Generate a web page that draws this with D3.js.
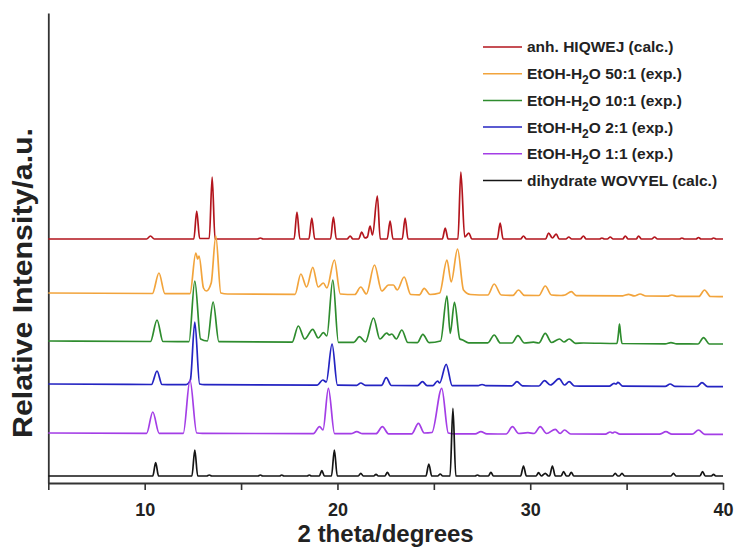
<!DOCTYPE html>
<html>
<head>
<meta charset="utf-8">
<script src="https://cdn.jsdelivr.net/npm/d3@7"></script>
<style>
  body { margin: 0; background: #fff; }
  text { font-family: Arial, "Liberation Sans", sans-serif; font-weight: bold; fill: #222; }
</style>
</head>
<body>
<svg id="chart" width="735" height="550"></svg>
<script>
// series names, top to bottom in the legend
var names = ['anh. HIQWEJ (calc.)', 'EtOH-H2O 50:1 (exp.)', 'EtOH-H2O 10:1 (exp.)',
  'EtOH-H2O 2:1 (exp.)', 'EtOH-H2O 1:1 (exp.)', 'dihydrate WOVYEL (calc.)'];
var colors = ['#b3151d', '#f2a43c', '#2e8c2e', '#2424c2', '#a43ee6', '#151515'];
// vertical stacking offset of each pattern (a.u.)
var offsets = [244, 190, 142, 99, 50, 7];
var xTicks = [5, 10, 15, 20, 25, 30, 35, 40];
var xLabels = [10, 20, 30, 40];

// [2theta, intensity above own offset]
var anh = [[5,0],[10.1,0],[10.3,3],[10.5,0],
  [12.55,0],[12.7,28],[12.85,0.5],[13.35,0.5],[13.5,62],[13.65,0],
  [15.85,0],[16.0,1],[16.15,0],[17.75,0],[17.9,27],[18.05,0],
  [18.52,0],[18.67,21],[18.82,0],[19.64,0],[19.79,22],[19.94,0],
  [20.5,0],[20.66,3],[20.8,0],[21.1,0],[21.26,7],[21.42,1],
  [21.55,2],[21.69,13],[21.82,4],[22.07,43],[22.22,0],
  [22.58,0],[22.73,18],[22.88,0],[23.36,0],[23.51,21],[23.66,0],
  [25.44,0],[25.59,11],[25.74,0],[26.25,0],[26.4,67],[26.6,2],[26.82,6],[26.97,0],
  [28.29,0],[28.44,16],[28.59,0],[29.5,0],[29.65,3],[29.8,0],
  [30.8,0],[30.95,6],[31.15,1],[31.35,5],[31.5,0],[31.85,0],[32.0,2],[32.15,0],
  [32.6,0],[32.76,3],[32.9,0],[33.6,0],[33.72,1],[33.85,0],
  [34.0,0],[34.15,2],[34.3,0],[34.8,0],[34.93,3],[35.08,0],
  [35.5,0],[35.62,3],[35.77,0],[36.3,0],[36.45,2],[36.6,0],
  [37.75,0],[37.87,1],[38.0,0],[38.6,0],[38.73,1.5],[38.86,0],
  [39.4,0],[39.51,1],[39.65,0],[40,0]];

var r50 = [[5,0],[10.4,-0.5],[10.74,20],[11.05,-0.6],
  [12.35,-0.7],[12.65,40],[12.75,34],[12.82,37],[13.05,5],[13.2,2],[13.45,10],[13.69,57],[13.95,0],[14.3,-1],
  [17.8,-1.3],[18.1,19],[18.4,6],[18.72,25.7],[19.0,6],[19.27,10],[19.45,5],[19.84,33],[20.15,-1],[20.9,-1.5],
  [21.21,6],[21.5,-1],[21.92,28],[22.3,2],[22.65,8],[22.9,8],[23.1,3],[23.46,16],[23.8,-1.5],[24.25,-1.8],
  [24.5,4.7],[24.8,-1.5],[25.3,0],[25.68,33],[25.9,11],[26.23,44],[26.54,3],[26.9,-1.5],[27.8,-2],
  [28.13,9],[28.5,-2],[29.1,-2.4],[29.39,3],[29.7,-2.4],[30.45,-2.5],[30.78,7],[31.1,-2],[31.6,-2.5],[31.8,-2],
  [32.13,1.3],[32.4,-2.7],[34.8,-2.8],[35.1,-1.3],[35.4,-2.9],[35.7,-1],[36.0,-3],[37.1,-3.2],[37.35,-2],[37.6,-3.3],
  [38.75,-3.4],[39.04,3],[39.35,-3.5],[40,-3.7]];

var r10 = [[5,0],[10.3,-0.5],[10.64,21],[10.95,-0.5],
  [12.3,-0.6],[12.6,60],[12.9,2],[13.25,0],[13.55,39],[13.85,-0.7],
  [17.65,-1.1],[17.97,15],[18.3,2],[18.72,11.7],[19.0,3],[19.27,8.3],[19.45,5],[19.76,61],[20.05,-1.3],
  [20.85,-1.4],[21.14,4.3],[21.45,-1],[21.87,23],[22.2,2],[22.56,8],[22.68,6],[22.82,7],[23.05,2],[23.34,11],[23.65,-1.5],
  [24.15,-1.6],[24.43,6.7],[24.75,-1.6],[25.35,0],[25.68,45],[25.85,7.7],[26.07,38.7],[26.35,2],[26.5,1],[26.8,-1.8],
  [27.8,-1.9],[28.13,6],[28.45,-2],[29.05,-2],[29.36,5.3],[29.7,-2],[30.17,-1.2],[30.45,-2],[30.78,7.7],[31.1,-1.5],
  [31.52,2],[31.75,-1],[32.02,2],[32.35,-2.3],[32.76,-2],[34.5,-2.5],[34.58,8],[34.63,17],[34.68,8],[34.76,-2.5],
  [37.0,-2.8],[37.3,-1.7],[37.6,-2.8],[38.7,-3],[38.99,3.3],[39.3,-3],[40,-3]];

var r2 = [[5,0],[10.35,-0.5],[10.64,13],[10.9,-0.5],[12.15,-0.6],[12.37,4],[12.6,62],[12.85,0],[13.1,-0.7],
  [18.95,-1.2],[19.24,4],[19.42,2],[19.72,40],[20.0,-1.2],[21.0,-1.3],[21.21,1],[21.45,-1.3],[22.28,-1.4],[22.53,6.3],[22.8,-1.5],
  [24.15,-1.6],[24.41,2.3],[24.65,-1.6],[24.95,-1.6],[25.19,3],[25.3,1],[25.64,19.7],[25.95,-1.6],[27.3,-1.7],[27.5,-0.5],[27.7,-1.7],
  [29.05,-1.9],[29.31,2.3],[29.6,-1.9],[30.45,-2],[30.74,3.3],[31.05,-1],[31.5,5.3],[31.78,-1],[32.02,2.3],[32.3,-2],
  [34.1,-2.2],[34.35,0.7],[34.45,0],[34.55,1.7],[34.8,-2.2],[37.0,-2.4],[37.26,0],[37.5,-2.4],[38.65,-2.5],[38.91,1.3],[39.2,-2.6],[40,-2.7]];

var r1 = [[5,0],[10.1,-0.3],[10.42,21],[10.75,-0.3],[12.0,-0.4],[12.35,53],[12.7,0],[13.0,-0.4],
  [18.75,-0.6],[19.07,6.3],[19.25,3],[19.53,44.7],[19.85,-0.6],[20.7,-0.7],[21.0,1.3],[21.3,-0.7],
  [22.0,-0.7],[22.33,6.3],[22.65,-0.8],[23.85,-0.8],[24.2,9.7],[24.5,0],[24.9,0.5],[25.41,44.7],[25.75,0],[26.1,-0.9],
  [27.15,-0.9],[27.44,1.3],[27.75,-0.9],[28.75,-1],[29.08,6.3],[29.4,-0.5],[29.88,0.3],[30.2,-0.5],[30.52,6.3],[30.85,-0.5],
  [31.3,3.7],[31.55,-0.5],[31.78,3],[32.1,-1],[33.9,-1.1],[34.15,1],[34.27,0],[34.38,1],[34.65,-1.1],
  [36.7,-1.2],[37.04,1.3],[37.35,-1.2],[38.4,-1.2],[38.73,3],[39.05,-1.3],[40,-1.3]];

var dihyd = [[5,0],[10.42,0],[10.57,13.3],[10.72,0],[12.45,0],[12.6,26],[12.75,0],[13.22,0],[13.35,1],[13.48,0],
  [15.88,0],[16.0,1],[16.12,0],[17.0,0],[17.11,1],[17.22,0],[18.43,0],[18.54,1],[18.65,0],
  [19.06,0],[19.19,5.3],[19.32,0],[19.69,0],[19.84,26],[19.99,0],[21.08,0],[21.21,2.7],[21.34,0],
  [21.88,0],[22.0,1.7],[22.12,0],[22.46,0],[22.59,3.7],[22.72,0],[24.59,0],[24.74,12],[24.89,0],
  [25.2,0],[25.33,2],[25.46,0],[25.84,0],[25.99,67.7],[26.14,0],[27.14,0],[27.26,1],[27.38,0],
  [27.83,0],[27.96,3.7],[28.09,0],[29.5,0],[29.65,10],[29.8,0],[30.3,0],[30.43,3.3],[30.58,0],[30.78,2.7],[30.95,0],
  [31.0,0],[31.15,10],[31.3,0],[31.6,0],[31.73,4.3],[31.88,0],[32.0,0],[32.13,3.7],[32.26,0],
  [34.28,0],[34.41,2.7],[34.54,0],[34.63,0],[34.76,2.7],[34.89,0],[37.3,0],[37.43,2.7],[37.56,0],
  [38.8,0],[38.94,4.3],[39.08,0],[39.4,0],[39.51,1.7],[39.62,0],[40,0]];

var patterns = [anh, r50, r10, r2, r1, dihyd];

var svg = d3.select('#chart'),
  x = d3.scaleLinear().domain([5, 40]).range([48.3, 723]),
  y = d3.scaleLinear().domain([0, 470]).range([483, 13]);

// axes
var xAxis = d3.axisBottom(x)
  .tickValues(xTicks)
  .tickSize(7)
  .tickSizeOuter(0)
  .tickPadding(13)
  .tickFormat(function(d) { return xLabels.indexOf(d) >= 0 ? d : ''; });

var gx = svg.append('g')
  .attr('transform', 'translate(0,' + y(0) + ')')
  .call(xAxis);
gx.select('.domain').attr('stroke', '#333').attr('stroke-width', 1.8);
gx.selectAll('.tick line').attr('stroke', '#333').attr('stroke-width', 1.6);
gx.selectAll('.tick text')
  .style('font-family', 'Arial, "Liberation Sans", sans-serif')
  .style('font-weight', 'bold')
  .style('font-size', '18px')
  .attr('fill', '#222');

var gy = svg.append('g')
  .attr('transform', 'translate(' + x(5) + ',0)')
  .call(d3.axisLeft(y).tickValues([]).tickSizeOuter(0));
gy.select('.domain').attr('stroke', '#333').attr('stroke-width', 1.8);

// patterns
var line = d3.line()
  .curve(d3.curveMonotoneX)
  .x(function(d) { return x(d[0]); })
  .y(function(d) { return y(d[1]); });

svg.append('g').selectAll('path')
  .data(patterns)
  .join('path')
  .attr('fill', 'none')
  .attr('stroke', function(d, i) { return colors[i]; })
  .attr('stroke-width', 1.7)
  .attr('stroke-linejoin', 'round')
  .attr('d', function(d, i) {
    var off = offsets[i];
    return line(d.map(function(p) { return [p[0], p[1] + off]; }));
  });

// legend
var leg = svg.append('g').attr('transform', 'translate(483,47)');
var rows = leg.selectAll('g')
  .data(names)
  .join('g')
  .attr('transform', function(d, i) { return 'translate(0,' + (i * 26.7) + ')'; });
rows.append('line')
  .attr('x1', 0).attr('x2', 39)
  .attr('stroke', function(d, i) { return colors[i]; })
  .attr('stroke-width', 1.5);
rows.append('text')
  .attr('x', 44)
  .attr('dy', '0.35em')
  .style('font-size', '15.5px')
  .each(function(d) {
    var t = d3.select(this);
    var k = d.indexOf('H2O');
    if (k < 0) { t.text(d); return; }
    t.append('tspan').text(d.slice(0, k + 1));
    t.append('tspan').attr('dy', 5).style('font-size', '12px').text('2');
    t.append('tspan').attr('dy', -5).text(d.slice(k + 2));
  });

// axis titles
svg.append('text')
  .attr('x', (x(5) + x(40)) / 2)
  .attr('y', 542)
  .attr('text-anchor', 'middle')
  .style('font-size', '24px')
  .text('2 theta/degrees');

svg.append('text')
  .attr('transform', 'translate(32,' + 283 + ')rotate(-90)')
  .attr('text-anchor', 'middle')
  .attr('textLength', 310)
  .attr('lengthAdjust', 'spacingAndGlyphs')
  .style('font-size', '27px')
  .text('Relative Intensity/a.u.');
</script>
</body>
</html>
